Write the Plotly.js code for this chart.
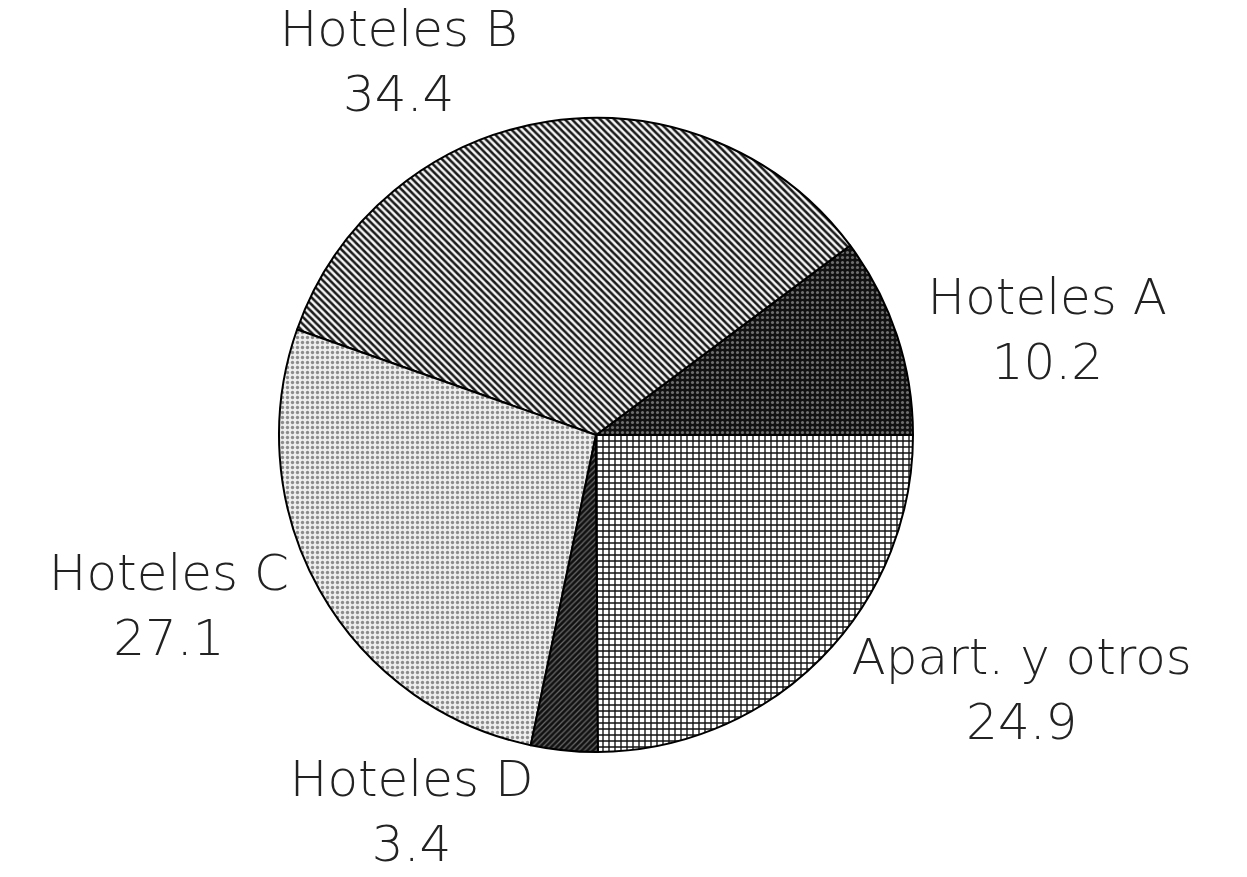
<!DOCTYPE html>
<html>
<head>
<meta charset="utf-8">
<script src="https://cdn.plot.ly/plotly-3.0.1.min.js"></script>
<style>html,body{margin:0;padding:0;background:#fff;}#chart{width:1247px;height:877px;}</style>
</head>
<body>
<div id="chart"></div>
<script>
var categories = ["Hoteles A", "Hoteles B", "Hoteles C", "Hoteles D", "Apart. y otros"];
var shares = [10.2, 34.4, 27.1, 3.4, 24.9];

var patternShapes = [".", "\\", ".", "/", "+"];
var patternBg = ["#111111", "#f4f4f4", "#eeeeee", "#111111", "#ffffff"];
var patternFg = ["#6e6e6e", "#1a1a1a", "#8c8c8c", "#6a6a6a", "#111111"];
var patternSize = [5, 5, 5, 4, 6];
var patternSolidity = [0.3, 0.5, 0.35, 0.3, 0.4];

var labelsText = categories.map(function (c, i) { return c + "<br>" + shares[i].toFixed(1); });

// Plotly places the first counterclockwise slice so it ends at the rotation angle;
// shift so that "Hoteles A" starts at 3 o'clock.
var total = shares.reduce(function (a, b) { return a + b; }, 0);
var rot = 90 - shares[0] / total * 360;

var trace = {
  type: "pie",
  labels: categories,
  values: shares,
  text: labelsText,
  textinfo: "text",
  textposition: "outside",
  sort: false,
  direction: "counterclockwise",
  rotation: rot,
  showlegend: false,
  hoverinfo: "label+value",
  marker: {
    colors: patternBg,
    line: {color: "#000000", width: 2},
    pattern: {
      shape: patternShapes,
      bgcolor: patternBg,
      fgcolor: patternFg,
      size: patternSize,
      solidity: patternSolidity,
      fillmode: "replace"
    }
  },
  outsidetextfont: {family: "DejaVu Sans, sans-serif", size: 50, weight: 300, color: "#222222"},
  automargin: false
};

var layout = {
  width: 1247,
  height: 877,
  margin: {l: 0, r: 55, t: 118, b: 125},
  paper_bgcolor: "#ffffff",
  plot_bgcolor: "#ffffff",
  showlegend: false
};

Plotly.newPlot("chart", [trace], layout, {displayModeBar: false, staticPlot: true});
</script>
</body>
</html>
